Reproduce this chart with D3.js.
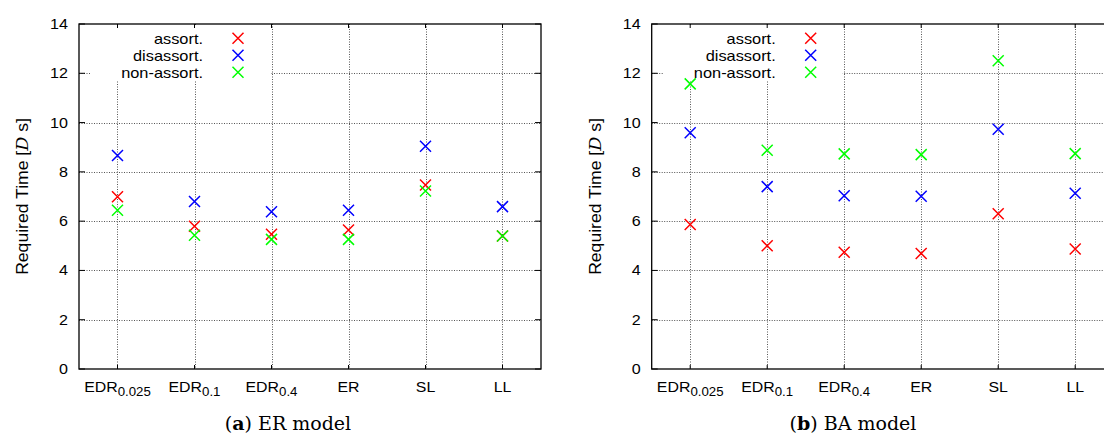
<!DOCTYPE html>
<html>
<head>
<meta charset="utf-8">
<script src="https://cdn.jsdelivr.net/npm/d3@7"></script>
<style>
  body { margin: 0; background: #fff; }
  svg { display: block; }
  .lab { font-family: "Liberation Sans", Arial, sans-serif; fill: #000; }
  .cap { font-family: "DejaVu Serif", serif; fill: #000; }
</style>
</head>
<body>
<div id="chart"></div>
<script>
"use strict";
//categories on the x axis, split in base text and subscript
var catBase = ["EDR", "EDR", "EDR", "ER", "SL", "LL"];
var catSub = ["0.025", "0.1", "0.4", "", "", ""];
var yTicks = [0, 2, 4, 6, 8, 10, 12, 14];

var seriesNames = ["assort.", "disassort.", "non-assort."];
var seriesColors = ["#ff0000", "#0000ff", "#00ff00"];

//(a) ER model
var erAssort = [6.99, 5.79, 5.47, 5.64, 7.47, 5.40];
var erDisassort = [8.66, 6.80, 6.38, 6.44, 9.04, 6.59];
var erNonAssort = [6.44, 5.43, 5.26, 5.26, 7.22, 5.40];

//(b) BA model
var baAssort = [5.86, 5.00, 4.74, 4.69, 6.30, 4.87];
var baDisassort = [9.59, 7.40, 7.03, 7.01, 9.73, 7.13];
var baNonAssort = [11.57, 8.88, 8.73, 8.70, 12.51, 8.74];

var W = 1104, H = 437;
var plotTop = 24, plotBottom = 369, plotW = 462;
var sx = 1.15; //gnuplot text is a bit wider than Liberation Sans

var svg = d3.select("#chart").append("svg")
  .attr("width", W)
  .attr("height", H);

function wideText(g, x, y, str, size, anchor, scale) {
  return g.append("text")
    .attr("class", "lab")
    .attr("transform", "translate(" + x + "," + y + ") scale(" + (scale || sx) + ",1)")
    .attr("text-anchor", anchor)
    .style("font-size", size + "px")
    .text(str);
}

function cross(g, x, y, color) {
  var s = 5.5;
  g.append("path")
    .attr("d", "M" + (x - s) + "," + (y - s) + "L" + (x + s) + "," + (y + s) +
      "M" + (x - s) + "," + (y + s) + "L" + (x + s) + "," + (y - s))
    .attr("stroke", color)
    .attr("stroke-width", 1.5)
    .attr("fill", "none");
}

function drawPanel(x0, series, capLetter, capText, capX) {
  var g = svg.append("g");
  var x = d3.scaleLinear().domain([-0.5, 5.5]).range([x0, x0 + plotW]);
  var y = d3.scaleLinear().domain([0, 14]).range([plotBottom, plotTop]);

  //grid
  var grid = g.append("g")
    .attr("stroke", "#555")
    .attr("stroke-width", 1)
    .attr("stroke-dasharray", "1,1.5");
  yTicks.forEach(function(t) {
    if (t == 0 || t == 14) return;
    grid.append("line")
      .attr("x1", x0).attr("x2", x0 + plotW)
      .attr("y1", Math.round(y(t)) + 0.5).attr("y2", Math.round(y(t)) + 0.5);
  });
  catBase.forEach(function(c, i) {
    grid.append("line")
      .attr("x1", Math.round(x(i)) + 0.5).attr("x2", Math.round(x(i)) + 0.5)
      .attr("y1", plotTop).attr("y2", plotBottom);
  });

  //opaque key box
  g.append("rect")
    .attr("x", x0 + 12).attr("y", plotTop + 1)
    .attr("width", 179).attr("height", 56)
    .attr("fill", "#fff");

  //tick marks, mirrored on both sides
  var tk = g.append("g").attr("stroke", "#000").attr("stroke-width", 1);
  yTicks.forEach(function(t) {
    tk.append("line").attr("x1", x0).attr("x2", x0 + 6).attr("y1", y(t)).attr("y2", y(t));
    tk.append("line").attr("x1", x0 + plotW).attr("x2", x0 + plotW - 6).attr("y1", y(t)).attr("y2", y(t));
  });
  catBase.forEach(function(c, i) {
    tk.append("line").attr("x1", x(i)).attr("x2", x(i)).attr("y1", plotBottom).attr("y2", plotBottom - 4);
    tk.append("line").attr("x1", x(i)).attr("x2", x(i)).attr("y1", plotTop).attr("y2", plotTop + 4);
  });

  //frame
  g.append("rect")
    .attr("x", x0).attr("y", plotTop)
    .attr("width", plotW).attr("height", plotBottom - plotTop)
    .attr("fill", "none")
    .attr("stroke", "#000")
    .attr("stroke-width", 1.3);

  //y tick labels
  yTicks.forEach(function(t) {
    wideText(g, x0 - 11, y(t) + 5, t, 14, "end");
  });

  //x tick labels with subscripts
  catBase.forEach(function(c, i) {
    var t = g.append("text")
      .attr("class", "lab")
      .attr("transform", "translate(" + x(i) + ",391.7) scale(1.06,1)")
      .attr("text-anchor", "middle")
      .style("font-size", "15px");
    t.append("tspan").text(c);
    if (catSub[i]) {
      t.append("tspan")
        .attr("dy", 4)
        .style("font-size", "12.5px")
        .text(catSub[i]);
    }
  });

  //y axis title
  var yt = g.append("text")
    .attr("class", "lab")
    .attr("transform", "translate(" + (x0 - 51) + "," + ((plotTop + plotBottom) / 2) + ") rotate(-90) scale(1.1,1)")
    .attr("text-anchor", "middle")
    .style("font-size", "16px");
  yt.append("tspan").text("Required Time [");
  yt.append("tspan")
    .style("font-family", "DejaVu Serif, serif")
    .style("font-style", "italic")
    .text("D");
  yt.append("tspan").text(" s]");

  //points, in plotting order
  series.forEach(function(vals, si) {
    vals.forEach(function(v, i) {
      cross(g, x(i), y(v), seriesColors[si]);
    });
  });

  //key
  seriesNames.forEach(function(n, si) {
    var ky = 38.3 + si * 17;
    wideText(g, x0 + 124, ky + 5.5, n, 14, "end", 1.17);
    cross(g, x0 + 159, ky, seriesColors[si]);
  });

  //caption
  var cap = g.append("text")
    .attr("class", "cap")
    .attr("x", capX).attr("y", 430)
    .attr("text-anchor", "middle")
    .style("font-size", "19px");
  cap.append("tspan").text("(");
  cap.append("tspan").style("font-weight", "bold").text(capLetter);
  cap.append("tspan").text(") " + capText);
}

drawPanel(79, [erAssort, erDisassort, erNonAssort], "a", "ER model", 288);
drawPanel(651.7, [baAssort, baDisassort, baNonAssort], "b", "BA model", 853);
</script>
</body>
</html>
